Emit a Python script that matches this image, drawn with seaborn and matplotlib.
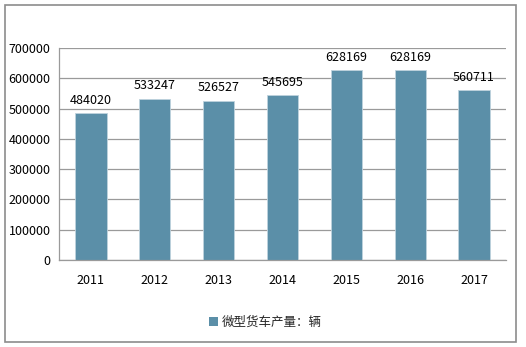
import matplotlib
matplotlib.use("Agg")
import matplotlib.pyplot as plt
import seaborn as sns
import pandas as pd
from matplotlib.patches import Patch, Rectangle

years = ["2011", "2012", "2013", "2014", "2015", "2016", "2017"]
values = [484020, 533247, 526527, 545695, 628169, 628169, 560711]
series_name = "微型货车产量：辆"
yticks = [0, 100000, 200000, 300000, 400000, 500000, 600000, 700000]

sns.set_theme(style="white")
plt.rcParams['font.family'] = ['Noto Sans CJK SC', 'DejaVu Sans']

color = "#5B8FA8"
df = pd.DataFrame({"year": years, "value": values})

fig = plt.figure(figsize=(5.26, 3.47), dpi=100)
ax = fig.add_axes([59/526, 1-260/347, (506-59)/526, (260-48)/347])
sns.barplot(data=df, x="year", y="value", color=color, width=0.49, ax=ax,
            saturation=1, edgecolor="#BFD3DD", linewidth=0.6)

ax.set_ylim(0, 700000)
ax.set_yticks(yticks)
ax.set_yticklabels([str(v) for v in yticks], fontsize=9, color="#000000")
ax.set_xticks(range(len(years)))
ax.set_xticklabels(years, fontsize=9, color="#000000")
ax.set_xlabel("")
ax.set_ylabel("")
ax.yaxis.grid(True, color="#9A9A9A", linewidth=0.9)
ax.set_axisbelow(True)
for s in ["top", "right"]:
    ax.spines[s].set_visible(False)
for s in ["left", "bottom"]:
    ax.spines[s].set_color("#9A9A9A")
    ax.spines[s].set_linewidth(0.9)
ax.tick_params(axis="both", length=0, pad=6)
ax.tick_params(axis="x", pad=10)

for i, v in enumerate(values):
    ax.text(i, v + 20000, str(v), ha="center", va="bottom", fontsize=9, color="#000000")

handle = Patch(facecolor=color, edgecolor="none")
fig.legend([handle], [series_name], loc="center", bbox_to_anchor=(265/526, 1-322/347),
           frameon=False, fontsize=9, handlelength=0.7, handleheight=0.7, handletextpad=0.3)

fig.patches.append(Rectangle((5/526, 5/347), 511/526, 337/347, transform=fig.transFigure,
                             fill=False, edgecolor="#8C8C8C", linewidth=1.2))

fig.savefig("out.png", dpi=100)
